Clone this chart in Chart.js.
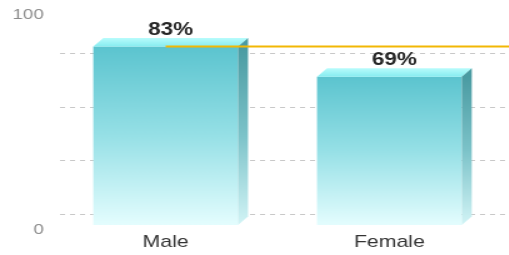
<!DOCTYPE html>
<html>
<head>
<meta charset="utf-8">
<script src="https://cdn.jsdelivr.net/npm/chart.js@4/dist/chart.umd.min.js"></script>
<style>
  html, body { margin: 0; padding: 0; background: #fff; overflow: hidden; }
  /* the reference is stretched horizontally, text included */
  #wrap { width: 407px; height: 255px; transform: scale(1.25, 1); transform-origin: 0 0; }
</style>
</head>
<body>
<div id="wrap"><canvas id="chart" width="407" height="255"></canvas></div>
<script>
const CATEGORIES   = ['Male', 'Female'];
const VALUES       = [83, 69];
const VALUE_LABELS = ['83%', '69%'];
const TARGET       = 83;          // orange line
const TARGET_X     = [0, 1.55];   // from Male to past the right edge
const Y_TICKS      = [0, 100];
const GRID_STEP    = 25;

const DEPTH   = { dx: 8, dy: 8.5 };   // 3D depth of the bars
const GRID_SH = { dx: 5, dy: 11 };    // back-wall grid shift

Chart.defaults.font.family = "'Liberation Sans', Arial, sans-serif";

function frontFill(ctx) {
  const chart = ctx.chart;
  if (!chart.chartArea || ctx.raw == null) return '#7fd6df';
  const y = chart.scales.y;
  const g = chart.ctx.createLinearGradient(0, y.getPixelForValue(ctx.raw), 0, y.getPixelForValue(0));
  g.addColorStop(0, '#5bc4cf');
  g.addColorStop(0.5, '#96e0e6');
  g.addColorStop(1, '#e4fdfe');
  return g;
}

/** Grille pointillée du mur du fond, décalée par la profondeur. */
const backGrid = {
  id: 'backGrid',
  beforeDatasetsDraw(chart) {
    const { ctx, chartArea: a, scales: { y } } = chart;
    ctx.save();
    ctx.strokeStyle = '#c8c8c8';
    ctx.lineWidth = 1;
    ctx.setLineDash([4, 4]);
    for (const t of y.ticks) {
      if (t.value >= y.max) continue;
      const py = Math.round(y.getPixelForValue(t.value) - GRID_SH.dy) + 0.5;
      ctx.beginPath();
      ctx.moveTo(a.left + GRID_SH.dx, py);
      ctx.lineTo(a.right + 20, py);
      ctx.stroke();
    }
    ctx.restore();
  },
};

/** Faces du dessus / côté + étiquettes de valeur. */
const bars3d = {
  id: 'bars3d',
  afterDatasetDraw(chart, args) {
    if (args.meta.type !== 'bar') return;
    const { ctx } = chart;
    const { dx, dy } = DEPTH;
    args.meta.data.forEach((el, i) => {
      const { x, y, base, width } = el.getProps(['x', 'y', 'base', 'width'], true);
      const L = x - width / 2, R = x + width / 2;

      // top face
      let g = ctx.createLinearGradient(0, y - dy, 0, y);
      g.addColorStop(0, '#b8fcfc');
      g.addColorStop(1, '#86ecf0');
      ctx.fillStyle = g;
      ctx.beginPath();
      ctx.moveTo(L, y); ctx.lineTo(L + dx, y - dy); ctx.lineTo(R + dx, y - dy); ctx.lineTo(R, y);
      ctx.closePath(); ctx.fill();

      // side face
      g = ctx.createLinearGradient(0, y, 0, base);
      g.addColorStop(0, '#4a9ba2');
      g.addColorStop(0.5, '#7cc3c9');
      g.addColorStop(1, '#d2f4f6');
      ctx.fillStyle = g;
      ctx.beginPath();
      ctx.moveTo(R, y); ctx.lineTo(R + dx, y - dy); ctx.lineTo(R + dx, base - dy); ctx.lineTo(R, base);
      ctx.closePath(); ctx.fill();

      // value label
      ctx.fillStyle = '#262626';
      ctx.font = "bold 18px 'Liberation Sans', Arial, sans-serif";
      ctx.textAlign = 'center';
      ctx.textBaseline = 'alphabetic';
      ctx.fillText(VALUE_LABELS[i], x + dx / 2, y - dy - 3);
    });
  },
};

new Chart(document.getElementById('chart'), {
  type: 'bar',
  data: {
    labels: CATEGORIES,
    datasets: [
      {
        type: 'line',
        data: TARGET_X.map(x => ({ x, y: TARGET })),
        xAxisID: 'xLine',
        borderColor: '#f2b705',
        borderWidth: 2,
        pointRadius: 0,
        clip: false,
        order: 0,
      },
      {
        data: VALUES,
        backgroundColor: frontFill,
        barPercentage: 0.647,
        categoryPercentage: 1,
        grouped: false,
        order: 1,
      },
    ],
  },
  options: {
    responsive: false,
    animation: false,
    layout: { padding: { left: 2, right: 6, top: 10, bottom: 0 } },
    plugins: { legend: { display: false }, tooltip: { enabled: false } },
    scales: {
      x: {
        grid: { display: false, drawTicks: false, tickLength: 0 },
        border: { display: false },
        afterFit: s => { s.height = 30; },
        ticks: { color: '#333', font: { size: 17 }, padding: 7 },
      },
      xLine: { type: 'linear', display: false, offset: false, min: -0.5, max: 1.5 },
      y: {
        min: 0, max: 100,
        grid: { display: false, drawTicks: false, tickLength: 0 },
        border: { display: false },
        afterFit: s => { s.paddingTop = 0; s.paddingBottom = 0; },
        ticks: {
          stepSize: GRID_STEP,
          color: '#8c8c8c',
          font: { size: 15 },
          padding: 8,
          labelOffset: 5,
          callback: v => Y_TICKS.includes(v) ? v : '',
        },
      },
    },
  },
  plugins: [backGrid, bars3d],
});
</script>
</body>
</html>
